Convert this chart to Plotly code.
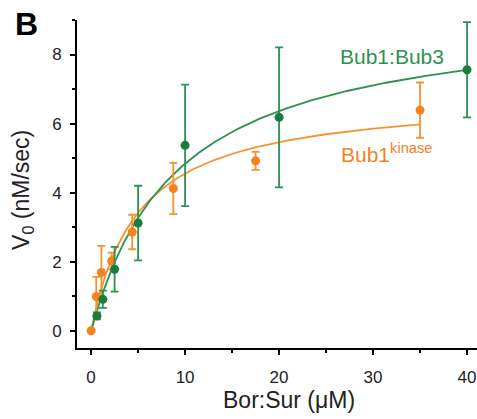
import numpy as np
import plotly.graph_objects as go

# Bub1:Bub3 (green)
green_x = [0.625, 1.25, 2.5, 5, 10, 20, 40]
green_y = [0.43, 0.91, 1.78, 3.12, 5.37, 6.18, 7.56]
green_err = [0.1, 0.25, 0.65, 1.08, 1.76, 2.03, 1.38]
green_vmax, green_km = 9.29, 9.2

# Bub1 kinase (orange)
orange_x = [0, 0.547, 1.094, 2.19, 4.375, 8.75, 17.5, 35]
orange_y = [0.0, 0.99, 1.69, 2.02, 2.86, 4.12, 4.92, 6.39]
orange_err = [0.0, 0.57, 0.77, 0.24, 0.5, 0.74, 0.26, 0.8]
orange_vmax, orange_km = 6.83, 5.0

x_ticks = [0, 10, 20, 30, 40]
y_ticks = [0, 2, 4, 6, 8]

GREEN = "#1a7d3e"
GREEN_L = "#2e9250"
ORANGE = "#f5821f"
ORANGE_L = "#f7922f"
FONT = "Liberation Sans, Arial, sans-serif"


def mm(v, k, x):
    return v * x / (k + x)


gx = np.linspace(0, 40, 200)
ox = np.linspace(0, 35, 200)

fig = go.Figure()
fig.add_trace(go.Scatter(x=ox, y=mm(orange_vmax, orange_km, ox), mode="lines",
                         line=dict(color=ORANGE_L, width=1.8), hoverinfo="skip"))
fig.add_trace(go.Scatter(x=gx, y=mm(green_vmax, green_km, gx), mode="lines",
                         line=dict(color=GREEN_L, width=1.8), hoverinfo="skip"))
fig.add_trace(go.Scatter(x=orange_x, y=orange_y, mode="markers",
                         marker=dict(color=ORANGE, size=9),
                         error_y=dict(type="data", array=orange_err, color=ORANGE_L,
                                      thickness=1.8, width=4)))
fig.add_trace(go.Scatter(x=green_x, y=green_y, mode="markers",
                         marker=dict(color=GREEN, size=9),
                         error_y=dict(type="data", array=green_err, color=GREEN_L,
                                      thickness=1.8, width=4)))

axis_common = dict(showgrid=False, zeroline=False, showline=True, linecolor="black",
                   linewidth=1.8, ticks="outside", ticklen=5, tickwidth=1.8,
                   tickcolor="black", tickfont=dict(family=FONT, size=17, color="#222"),
                   automargin=False)

fig.update_xaxes(range=[-1.5, 41.06], tickvals=x_ticks,
                 minor=dict(dtick=5, tick0=0, ticks="outside", ticklen=3, tickwidth=1.8, tickcolor="black"),
                 ticklabelstandoff=8, **axis_common)
fig.update_yaxes(range=[-0.5, 9.0], tickvals=y_ticks,
                 minor=dict(dtick=1, tick0=0, ticks="outside", ticklen=3, tickwidth=1.8, tickcolor="black"),
                 ticklabelstandoff=5, **axis_common)

fig.update_layout(
    width=477, height=419,
    margin=dict(l=77, r=0, t=20, b=71),
    plot_bgcolor="white", paper_bgcolor="white",
    showlegend=False,
    font=dict(family=FONT),
    annotations=[
        dict(text="<b>B</b>", xref="paper", yref="paper", x=-0.1275, y=0.988,
             showarrow=False, font=dict(size=32, color="black", family=FONT),
             xanchor="center", yanchor="middle"),
        dict(text="V<sub>0</sub> (nM/sec)", xref="paper", yref="paper", x=-0.135, y=0.482,
             showarrow=False, textangle=-90, font=dict(size=23, color="#222", family=FONT),
             xanchor="center", yanchor="middle"),
        dict(text="Bor:Sur (μM)", xref="paper", yref="paper", x=0.53, y=(348 - 400) / 328,
             showarrow=False, font=dict(size=23, color="#222", family=FONT),
             xanchor="center", yanchor="middle"),
        dict(text="Bub1:Bub3", x=32, y=7.95, xref="x", yref="y", showarrow=False,
             font=dict(size=21, color=GREEN_L, family=FONT), xanchor="center", yanchor="middle"),
        dict(text="Bub1<sup>kinase</sup>", x=31.5, y=5.15, xref="x", yref="y", showarrow=False,
             font=dict(size=21, color=ORANGE, family=FONT), xanchor="center", yanchor="middle"),
    ],
)

fig.write_html("out.html", config={"displayModeBar": False},
               post_script="document.body.style.margin='0px';document.body.style.overflow='hidden';")
